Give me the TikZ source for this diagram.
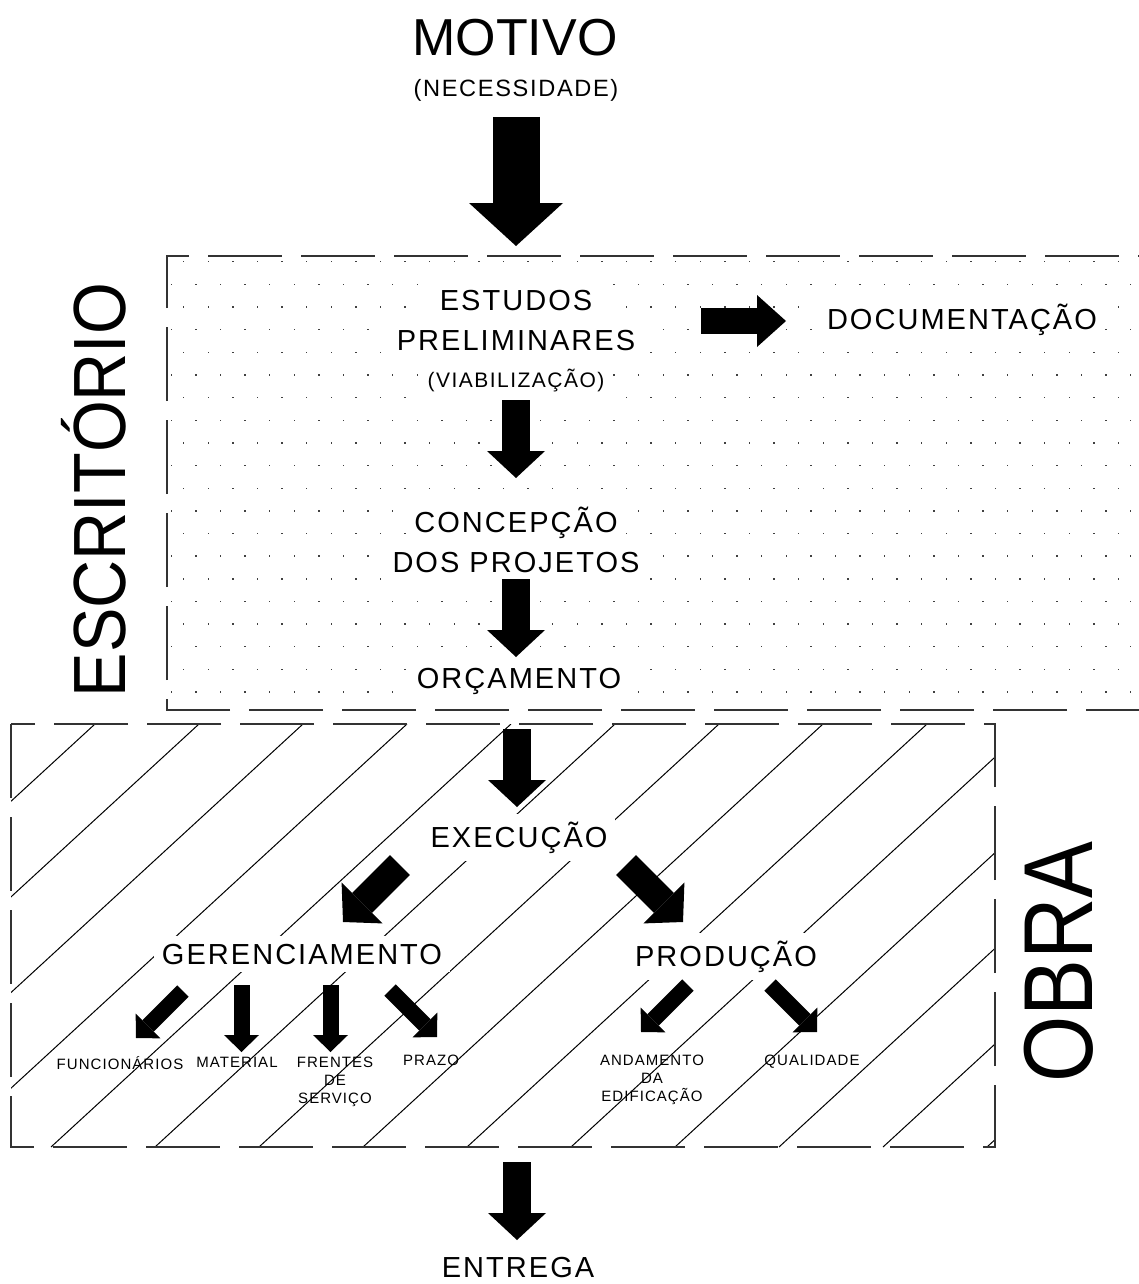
\documentclass[tikz,border=0pt]{standalone}
\usepackage{fontspec}
\setmainfont{Liberation Sans}
\newfontfamily\spaced[LetterSpace=7]{Liberation Sans}
\usetikzlibrary{arrows.meta,positioning}

\begin{document}
\begin{tikzpicture}[x=0.5pt, y=-0.5pt]
\tikzset{
    %Define style for the text labels
    rotulo/.style={
           font=\spaced\fontsize{14.5}{20}\selectfont,
           fill=white,
           inner xsep=4pt, inner ysep=4pt,
           anchor=base},
    pequeno/.style={
           font=\spaced\fontsize{7.5}{9}\selectfont,
           inner sep=0pt,
           align=center,
           anchor=north},
    grande/.style={
           font=\fontsize{37}{40}\selectfont,
           rotate=90,
           anchor=base},
    % Define arrow styles (block arrows)
    bigpil/.style={
           line width=23.5pt,
           -{Triangle[length=21.5pt, width=47pt, line width=0pt]}},
    pil/.style={
           line width=14pt,
           -{Triangle[length=13.5pt, width=29pt, line width=0pt]}},
    sidepil/.style={
           line width=13pt,
           -{Triangle[length=14.5pt, width=26pt, line width=0pt]}},
    smallpil/.style={
           line width=8pt,
           -{Triangle[length=8.5pt, width=17.5pt, line width=0pt]}},
    % Define box styles
    caixa/.style={
           draw=black!80,
           line width=0.7pt,
           dash pattern=on 37pt off 9.5pt},
    hachura/.style={
           line width=0.5pt},
}
\useasboundingbox (0,0) rectangle (1139,1284);
\clip (0,0) rectangle (1139,1284);

 % dotted field of the office
 \foreach \j in {0,...,19}{
   \pgfmathsetmacro\yy{261+22.65*\j}
   \pgfmathsetmacro\xo{ifthenelse(mod(\j,2)==0,183,170.5)}
   \foreach \i in {0,...,40}
     \fill[black!75] ({\xo+24.6*\i},\yy) rectangle +(1.4,1.4);
 }
 \draw[caixa] (1160,710) -- (167,710) -- (167,256) -- (1160,256);

 % hatched field of the site
 \begin{scope}
   \clip (11,724) rectangle (995,1147);
   \foreach \c in {0,...,13}
     \draw[hachura] ({95+104*\c},724) -- ({-365+104*\c},1147);
 \end{scope}
 \draw[caixa] (11,724) rectangle (995,1147);

 %nodes
 \node[font=\fontsize{26}{30}\selectfont, anchor=base] (motivo) at (515,56) {MOTIVO};
 \node[rotulo, font=\spaced\fontsize{11.8}{14}\selectfont, fill=none] (necessidade) at (516,97) {(NECESSIDADE)};
 \node[rotulo, inner xsep=10pt] (estudos) at (516,310) {ESTUDOS};
 \node[rotulo] (preliminares) at (516,350) {PRELIMINARES};
 \node[rotulo, font=\spaced\fontsize{10.5}{12}\selectfont] (viabilizacao) at (516,387) {(VIABILIZAÇÃO)};
 \node[rotulo] (documentacao) at (962,329) {DOCUMENTAÇÃO};
 \node[rotulo] (concepcao) at (516,532) {CONCEPÇÃO};
 \node[rotulo] (projetos) at (516,572) {DOS PROJETOS};
 \node[rotulo] (orcamento) at (519,688) {ORÇAMENTO};
 \node[rotulo] (execucao) at (519,847) {EXECUÇÃO};
 \node[rotulo] (gerenciamento) at (302,964) {GERENCIAMENTO};
 \node[rotulo] (producao) at (726,966) {PRODUÇÃO};
 \node[rotulo, fill=none] (entrega) at (518,1277) {ENTREGA};

 % labels under the management and the production
 \node[pequeno] (funcionarios) at (120,1056.3) {FUNCIONÁRIOS};
 \node[pequeno] (material) at (237,1056.3) {MATERIAL};
 \node[pequeno] (frentes) at (335,1056.3) {FRENTES\\DE\\SERVIÇO};
 \node[pequeno] (prazo) at (431,1054.3) {PRAZO};
 \node[pequeno] (andamento) at (652,1054.3) {ANDAMENTO\\DA\\EDIFICAÇÃO};
 \node[pequeno] (qualidade) at (812,1054.3) {QUALIDADE};

 % the two big side titles
 \node[grande] (escritorio) at (125,490) {\scalebox{0.9}[1]{ESCRITÓRIO}};
 \node[grande, font=\fontsize{49}{52}\selectfont] (obra) at (1092,962) {\scalebox{0.87}[1]{OBRA}};

 % ends of the block arrows
 \coordinate (motivo-out) at (516,117);
 \coordinate (estudos-in) at (516,246);
 \coordinate (estudos-out) at (516,400);
 \coordinate (concepcao-in) at (516,478);
 \coordinate (concepcao-out) at (516,579);
 \coordinate (orcamento-in) at (516,657);
 \coordinate (orcamento-out) at (517,729);
 \coordinate (execucao-in) at (517,807);
 \coordinate (obra-out) at (517,1162);
 \coordinate (entrega-in) at (517,1240);
 \coordinate (estudos-side) at (701,321);
 \coordinate (documentacao-in) at (786,321);
 \coordinate (execucao-sw) at (400,865);
 \coordinate (gerenciamento-in) at (343,922);
 \coordinate (execucao-se) at (626,865);
 \coordinate (producao-in) at (683,922);
 \coordinate (ger-a) at (183,991);
 \coordinate (funcionarios-in) at (136,1038);
 \coordinate (ger-b) at (241.5,985);
 \coordinate (material-in) at (241.5,1052);
 \coordinate (ger-c) at (330.5,985);
 \coordinate (frentes-in) at (330.5,1052);
 \coordinate (ger-d) at (390,990);
 \coordinate (prazo-in) at (437,1037);
 \coordinate (prod-a) at (688,985);
 \coordinate (andamento-in) at (641,1032);
 \coordinate (prod-b) at (770,985);
 \coordinate (qualidade-in) at (817,1032);

 % block arrows
 \draw[bigpil] (motivo-out) -- (estudos-in);
 \draw[pil] (estudos-out) -- (concepcao-in);
 \draw[pil] (concepcao-out) -- (orcamento-in);
 \draw[pil] (orcamento-out) -- (execucao-in);
 \draw[pil] (obra-out) -- (entrega-in);
 \draw[sidepil] (estudos-side) -- (documentacao-in);
 \draw[pil] (execucao-sw) -- (gerenciamento-in);
 \draw[pil] (execucao-se) -- (producao-in);
 \draw[smallpil] (ger-a) -- (funcionarios-in);
 \draw[smallpil] (ger-b) -- (material-in);
 \draw[smallpil] (ger-c) -- (frentes-in);
 \draw[smallpil] (ger-d) -- (prazo-in);
 \draw[smallpil] (prod-a) -- (andamento-in);
 \draw[smallpil] (prod-b) -- (qualidade-in);
\end{tikzpicture}
\end{document}
